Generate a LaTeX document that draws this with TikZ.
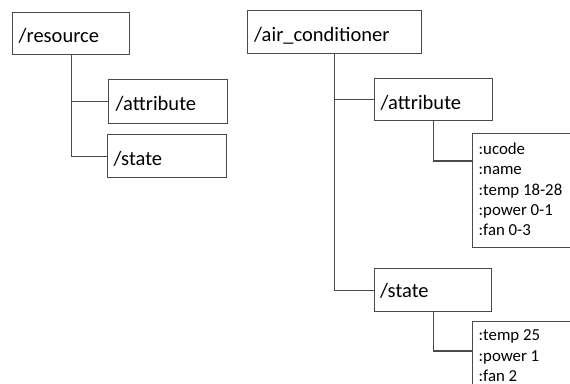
\documentclass[tikz,border=0pt]{standalone}
\usepackage{fontspec}
\setmainfont{Carlito}
\usetikzlibrary{calc}
\definecolor{edge}{HTML}{4A4A4A}
\tikzset{
  box/.style={draw=edge, line width=1.2pt, rectangle, inner sep=0pt, anchor=north west, fill=white},
  link/.style={draw=edge, line width=1.2pt},
  head/.style={anchor=base west, inner sep=0pt, font=\fontsize{20.5}{24}\selectfont},
  item/.style={anchor=north west, inner sep=0pt, align=left,
    font=\fontsize{16.8}{20.4}\selectfont}
}
\begin{document}
\begin{tikzpicture}[x=1pt, y=-1pt]
\useasboundingbox (0,0) rectangle (570,383);
\clip (0,0) rectangle (570,383);

% generic resource tree
\node[box, minimum width=117pt, minimum height=42pt] (res) at (12,12) {};
\node[box, minimum width=119pt, minimum height=44pt] (rattr) at (108,79) {};
\node[box, minimum width=119pt, minimum height=43pt] (rstate) at (107,134) {};
\node[head] (resT) at (18.5,42.5) {/resource};
\node[head] (rattrT) at (115.5,110) {/attribute};
\node[head] (rstateT) at (113.5,165.5) {/state};
\draw[link] (res.south) |- (rattr.west);
\draw[link] (res.south) |- (rstate.west);

% air conditioner tree
\node[box, minimum width=174pt, minimum height=43pt] (ac) at (247,10) {};
\node[box, minimum width=118pt, minimum height=42pt] (aattr) at (374,78) {};
\node[box, minimum width=117pt, minimum height=43pt] (astate) at (374,268) {};
\node[box, minimum width=112pt, minimum height=114pt] (det1) at (472,133) {};
\node[box, minimum width=112pt, minimum height=80pt] (det2) at (472,321) {};
\node[head] (acT) at (254,41.5) {/air\_conditioner};
\node[head] (aattrT) at (380.5,109) {/attribute};
\node[head] (astateT) at (380,297.5) {/state};
\node[item] (det1T) at (478.5,142.5) {:ucode\\:name\\:temp 18-28\\:power 0-1\\:fan 0-3};
\node[item] (det2T) at (478.5,329.5) {:temp 25\\:power 1\\:fan 2};
\draw[link] (ac.south) |- (aattr.west);
\draw[link] (ac.south) |- (astate.west);
\draw[link] (aattr.south) |- ($(det1.north west)+(0,28)$);
\draw[link] (astate.south) |- ($(det2.north west)+(0,30)$);
\end{tikzpicture}
\end{document}
